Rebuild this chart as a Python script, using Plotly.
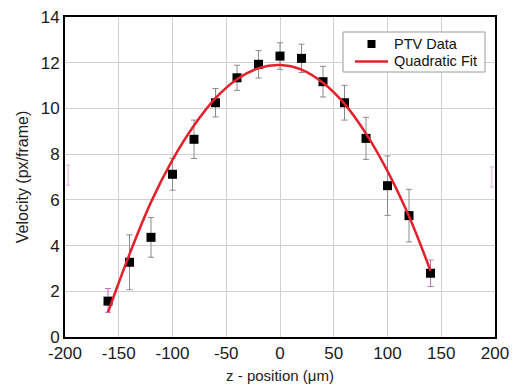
import plotly.graph_objects as go

# Data
z_pos = [-160, -140, -120, -100, -80, -60, -40, -20, 0, 20, 40, 60, 80, 100, 120, 140]
velocity = [1.57, 3.27, 4.36, 7.12, 8.65, 10.25, 11.34, 11.93, 12.29, 12.19, 11.17, 10.25, 8.69, 6.62, 5.31, 2.79]
err_gray = [0, 1.2, 0.87, 0.7, 0.84, 0.62, 0.55, 0.6, 0.58, 0.62, 0.67, 0.76, 0.92, 1.3, 1.15, 0]

# end points have pink (magenta) error bars
end_z = [-160, 140]
end_v = [1.57, 2.79]
end_err_plus = [0.55, 0.58]
end_err_minus = [0.49, 0.58]

# faint pink marks at the plot edges
edge_z = [-197, 197]
edge_v = [7.08, 7.0]
edge_err = [0.44, 0.44]

# Quadratic fit curve read at each 20 µm
fit_z = [-160, -140, -120, -100, -80, -60, -40, -20, 0, 20, 40, 60, 80, 100, 120, 140]
fit_v = [1.08, 3.62, 5.9, 7.75, 9.25, 10.45, 11.28, 11.76, 11.9, 11.7, 11.12, 10.2, 8.9, 7.26, 5.28, 2.9]

x_ticks = [-200, -150, -100, -50, 0, 50, 100, 150, 200]
y_ticks = [0, 2, 4, 6, 8, 10, 12, 14]
legend_labels = ["PTV Data", "Quadratic Fit"]

PINK = "#c070c0"
RED = "#e3202c"
FONT = "Liberation Sans, Arial, sans-serif"

fig = go.Figure()

fig.add_trace(go.Scatter(
    x=edge_z, y=edge_v, mode="markers",
    marker=dict(size=1, color="rgba(0,0,0,0)"),
    error_y=dict(type="data", array=edge_err, color="rgba(200,110,200,0.55)", thickness=1, width=2),
    showlegend=False, hoverinfo="skip", cliponaxis=False,
))

fig.add_trace(go.Scatter(
    x=end_z, y=end_v, mode="markers",
    marker=dict(size=1, color="rgba(0,0,0,0)"),
    error_y=dict(type="data", array=end_err_plus, arrayminus=end_err_minus, symmetric=False,
                 color=PINK, thickness=1, width=3),
    showlegend=False, hoverinfo="skip",
))

fig.add_trace(go.Scatter(
    x=z_pos, y=velocity, mode="markers", name=legend_labels[0],
    marker=dict(symbol="square", size=9, color="black"),
    error_y=dict(type="data", array=err_gray, color="#8a8a8a", thickness=1, width=3),
    showlegend=False,
))

fig.add_trace(go.Scatter(
    x=fit_z, y=fit_v, mode="lines", name=legend_labels[1],
    line=dict(color=RED, width=2.5, shape="spline", smoothing=1.0),
    showlegend=False,
))

# Compact legend box (plot area: 430 x 320 px)
PW, PH = 430.0, 320.0
def px(xp):  # pixel from plot-left -> paper
    return xp / PW
def py(yp):  # pixel from plot-bottom -> paper
    return yp / PH

box_l, box_r, box_t, box_b = 278, 420, 305, 265
fig.add_shape(type="rect", xref="paper", yref="paper",
              x0=px(box_l), x1=px(box_r), y0=py(box_b), y1=py(box_t),
              line=dict(color="#9a9a9a", width=1), fillcolor="white", layer="above")
fig.add_shape(type="rect", xref="paper", yref="paper",
              x0=px(302.5), x1=px(310.5), y0=py(289), y1=py(297),
              line=dict(width=0), fillcolor="black", layer="above")
fig.add_shape(type="line", xref="paper", yref="paper",
              x0=px(290), x1=px(323), y0=py(275.5), y1=py(275.5),
              line=dict(color=RED, width=2.5), layer="above")
for lbl, ypx in zip(legend_labels, [293, 275.5]):
    fig.add_annotation(text=lbl, xref="paper", yref="paper", x=px(327), y=py(ypx),
                       xanchor="left", yanchor="middle", showarrow=False,
                       font=dict(family=FONT, size=14.5, color="#111"))

axis_common = dict(
    showgrid=True, gridcolor="#cfcfcf", gridwidth=1,
    showline=True, linecolor="black", linewidth=2, mirror=True,
    ticks="", zeroline=False, automargin=False,
    tickfont=dict(family=FONT, size=17, color="#1a1a1a"),
)

fig.update_layout(
    width=513, height=389,
    margin=dict(l=65, r=18, t=17, b=52),
    paper_bgcolor="white", plot_bgcolor="white",
    font=dict(family=FONT, color="#111"),
    xaxis=dict(range=[-200, 200], tickvals=x_ticks, ticktext=[str(v) for v in x_ticks],
               title=dict(text="z - position (μm)", font=dict(family=FONT, size=15, color="#222"), standoff=8),
               **axis_common),
    yaxis=dict(range=[0, 14], tickvals=y_ticks, ticktext=[str(v) for v in y_ticks],
               title=dict(text="Velocity (px/frame)", font=dict(family=FONT, size=16, color="#222"), standoff=8),
               **axis_common),
    showlegend=False,
)

fig.write_html("out.html", config={"displayModeBar": False},
               post_script="document.body.style.margin='0';document.body.style.padding='0';document.body.style.overflow='hidden';")
